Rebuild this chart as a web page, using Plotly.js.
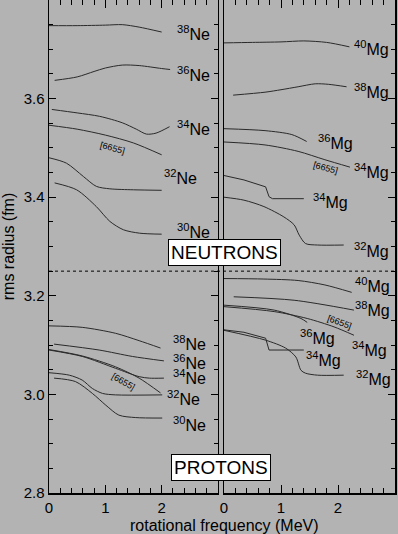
<!DOCTYPE html>
<html>
<head>
<meta charset="utf-8">
<script src="https://cdn.plot.ly/plotly-3.0.1.min.js"></script>
<style>
html,body{margin:0;padding:0;background:#b3b3b3;}
#chart{width:398px;height:534px;}
</style>
</head>
<body>
<div id="chart"></div>
<script>
// ---------- DATA (rms radius in fm vs rotational frequency in MeV) ----------
// Neutrons, Ne isotopes (left panel)
const ne38_n_x = [0, 0.5, 1.0, 1.3, 1.6, 2.0];
const ne38_n_y = [3.748, 3.748, 3.749, 3.750, 3.745, 3.735];
const ne36_n_x = [0.1, 0.5, 0.8, 1.0, 1.3, 1.6, 2.0, 2.15];
const ne36_n_y = [3.637, 3.644, 3.655, 3.662, 3.668, 3.667, 3.661, 3.659];
const ne34_n_x = [0.05, 0.5, 0.9, 1.3, 1.55, 1.73, 1.9, 2.14];
const ne34_n_y = [3.578, 3.571, 3.564, 3.551, 3.538, 3.528, 3.530, 3.543];
const ne34b_n_x = [0, 0.5, 1.0, 1.5, 2.0];
const ne34b_n_y = [3.546, 3.538, 3.526, 3.510, 3.486];
const ne32_n_x = [0, 0.31, 0.61, 0.84, 1.08, 1.5, 2.0];
const ne32_n_y = [3.480, 3.469, 3.442, 3.422, 3.417, 3.415, 3.414];
const ne30_n_x = [0.1, 0.49, 0.84, 1.08, 1.32, 1.61, 2.0];
const ne30_n_y = [3.429, 3.415, 3.381, 3.351, 3.334, 3.327, 3.325];

// Neutrons, Mg isotopes (right panel)
const mg40_n_x = [0, 0.5, 1.0, 1.4, 1.8, 2.2];
const mg40_n_y = [3.713, 3.714, 3.715, 3.717, 3.714, 3.705];
const mg38_n_x = [0.16, 0.72, 1.0, 1.3, 1.6, 1.83, 2.15];
const mg38_n_y = [3.607, 3.613, 3.618, 3.624, 3.630, 3.629, 3.624];
const mg36_n_x = [0, 0.72, 1.19, 1.45];
const mg36_n_y = [3.539, 3.535, 3.527, 3.513];
const mg34b_n_x = [0, 0.72, 1.30, 1.77, 2.21];
const mg34b_n_y = [3.512, 3.506, 3.493, 3.476, 3.461];
const mg34_n_x = [0, 0.35, 0.73, 0.79, 0.85, 1.40];
const mg34_n_y = [3.444, 3.435, 3.421, 3.401, 3.397, 3.397];
const mg32_n_x = [0, 0.35, 0.70, 1.05, 1.23, 1.32, 1.43, 1.64, 2.10];
const mg32_n_y = [3.400, 3.394, 3.381, 3.360, 3.344, 3.323, 3.306, 3.303, 3.303];

// Protons, Ne isotopes (left panel)
const ne38_p_x = [0, 0.59, 1.18, 1.60, 1.98];
const ne38_p_y = [3.139, 3.136, 3.124, 3.109, 3.094];
const ne36_p_x = [0.09, 0.89, 1.48, 2.04];
const ne36_p_y = [3.102, 3.090, 3.077, 3.068];
const ne34_p_x = [0, 0.59, 1.18, 1.60, 1.78, 2.04];
const ne34_p_y = [3.090, 3.077, 3.053, 3.036, 3.033, 3.033];
const ne34b_p_x = [0, 0.59, 1.18, 1.60, 1.98];
const ne34b_p_y = [3.091, 3.078, 3.056, 3.033, 3.003];
const ne32_p_x = [0, 0.36, 0.59, 0.77, 0.95, 1.18, 2.01];
const ne32_p_y = [3.044, 3.039, 3.029, 3.012, 3.002, 2.999, 2.999];
const ne30_p_x = [0.09, 0.47, 0.77, 1.01, 1.24, 1.54, 2.01];
const ne30_p_y = [3.033, 3.026, 3.002, 2.978, 2.958, 2.953, 2.952];

// Protons, Mg isotopes (right panel)
const mg40_p_x = [0, 0.7, 1.30, 1.77, 2.24];
const mg40_p_y = [3.235, 3.234, 3.231, 3.222, 3.207];
const mg38_p_x = [0.17, 1.23, 2.28];
const mg38_p_y = [3.198, 3.191, 3.171];
const mg36_p_x = [0, 0.88, 1.35, 1.46];
const mg36_p_y = [3.181, 3.171, 3.154, 3.146];
const mg34b_p_x = [0, 0.88, 1.46, 1.93, 2.28];
const mg34b_p_y = [3.178, 3.168, 3.154, 3.137, 3.120];
const mg34_p_x = [0, 0.35, 0.73, 0.79, 1.40];
const mg34_p_y = [3.131, 3.126, 3.114, 3.090, 3.090];
const mg32_p_x = [0, 0.73, 1.08, 1.26, 1.35, 1.43, 1.64, 2.10];
const mg32_p_y = [3.130, 3.110, 3.094, 3.076, 3.049, 3.043, 3.039, 3.039];

// tick labels
const xTickVals = [0, 1, 2, 3];
const xTickTextLeft = ['0', '1', '2', ''];
const xTickTextRight = ['0', '1', '2', '3'];
const yTickVals = [2.8, 3.0, 3.2, 3.4, 3.6];

// ---------- PLOT ----------
const FONT = 'Liberation Sans, Arial, Helvetica, sans-serif';
const LC = '#2a2a2a';
function tr(x, y, right, smooth) {
  return {
    x: x, y: y, type: 'scatter', mode: 'lines',
    xaxis: right ? 'x2' : 'x', yaxis: right ? 'y2' : 'y',
    line: {color: LC, width: 1, shape: smooth ? 'spline' : 'linear', smoothing: 0.8},
    hoverinfo: 'skip', showlegend: false
  };
}
const data = [
  tr(ne38_n_x, ne38_n_y, false, true),
  tr(ne36_n_x, ne36_n_y, false, true),
  tr(ne34_n_x, ne34_n_y, false, true),
  tr(ne34b_n_x, ne34b_n_y, false, true),
  tr(ne32_n_x, ne32_n_y, false, true),
  tr(ne30_n_x, ne30_n_y, false, true),
  tr(mg40_n_x, mg40_n_y, true, true),
  tr(mg38_n_x, mg38_n_y, true, true),
  tr(mg36_n_x, mg36_n_y, true, true),
  tr(mg34b_n_x, mg34b_n_y, true, true),
  tr(mg34_n_x, mg34_n_y, true, false),
  tr(mg32_n_x, mg32_n_y, true, true),
  tr(ne38_p_x, ne38_p_y, false, true),
  tr(ne36_p_x, ne36_p_y, false, true),
  tr(ne34_p_x, ne34_p_y, false, true),
  tr(ne34b_p_x, ne34b_p_y, false, true),
  tr(ne32_p_x, ne32_p_y, false, true),
  tr(ne30_p_x, ne30_p_y, false, true),
  tr(mg40_p_x, mg40_p_y, true, true),
  tr(mg38_p_x, mg38_p_y, true, true),
  tr(mg36_p_x, mg36_p_y, true, true),
  tr(mg34b_p_x, mg34b_p_y, true, true),
  tr(mg34_p_x, mg34_p_y, true, false),
  tr(mg32_p_x, mg32_p_y, true, true)
];

function lab(text, x, y, right, size, angle) {
  return {
    text: text, x: x, y: y, xref: right ? 'x2' : 'x', yref: 'y',
    showarrow: false, xanchor: 'center', yanchor: 'middle',
    textangle: angle || 0,
    font: {family: FONT, size: size || 16, color: '#000'}
  };
}
const annotations = [
  lab('<sup>38</sup>Ne', 2.565, 3.733, false),
  lab('<sup>36</sup>Ne', 2.565, 3.650, false),
  lab('<sup>34</sup>Ne', 2.565, 3.540, false),
  lab('<sup>32</sup>Ne', 2.326, 3.441, false),
  lab('<sup>30</sup>Ne', 2.565, 3.331, false),
  lab('[6655]', 1.127, 3.500, false, 9, 15),
  lab('<sup>40</sup>Mg', 2.579, 3.703, true),
  lab('<sup>38</sup>Mg', 2.579, 3.615, true),
  lab('<sup>36</sup>Mg', 1.956, 3.512, true),
  lab('<sup>34</sup>Mg', 2.579, 3.453, true),
  lab('[6655]', 1.789, 3.459, true, 9, 15),
  lab('<sup>34</sup>Mg', 1.86, 3.392, true),
  lab('<sup>32</sup>Mg', 2.579, 3.293, true),
  lab('<sup>38</sup>Ne', 2.503, 3.104, false),
  lab('<sup>36</sup>Ne', 2.503, 3.066, false),
  lab('<sup>34</sup>Ne', 2.503, 3.035, false),
  lab('<sup>32</sup>Ne', 2.379, 2.993, false),
  lab('<sup>30</sup>Ne', 2.503, 2.940, false),
  lab('[6655]', 1.331, 3.026, false, 9, 30),
  lab('<sup>40</sup>Mg', 2.614, 3.222, true),
  lab('<sup>38</sup>Mg', 2.614, 3.173, true),
  lab('[6655]', 2.018, 3.147, true, 9, 20),
  lab('<sup>36</sup>Mg', 1.640, 3.116, true),
  lab('<sup>34</sup>Mg', 2.561, 3.092, true),
  lab('<sup>34</sup>Mg', 1.749, 3.072, true),
  lab('<sup>32</sup>Mg', 2.626, 3.033, true),
  {
    text: 'NEUTRONS', xref: 'paper', yref: 'y', x: 0.506, y: 3.288,
    showarrow: false, xanchor: 'center', yanchor: 'middle',
    bgcolor: '#ffffff', bordercolor: '#000', borderwidth: 1, borderpad: 2,
    font: {family: FONT, size: 19, color: '#000'}
  },
  {
    text: 'PROTONS', xref: 'paper', yref: 'y', x: 0.497, y: 2.851,
    showarrow: false, xanchor: 'center', yanchor: 'middle',
    bgcolor: '#ffffff', bordercolor: '#000', borderwidth: 1, borderpad: 2,
    font: {family: FONT, size: 19, color: '#000'}
  },
  {
    text: 'rotational frequency (MeV)', xref: 'paper', yref: 'paper',
    x: 0.506, y: -0.065, showarrow: false, xanchor: 'center', yanchor: 'middle',
    font: {family: FONT, size: 16, color: '#000'}
  }
];

const xCommon = {
  range: [0, 3], tickvals: xTickVals, ticks: 'inside', ticklen: 8, tickwidth: 1,
  tickcolor: '#000', showline: true, linecolor: '#000', linewidth: 1.5,
  mirror: 'ticks', showgrid: false, zeroline: false,
  minor: {dtick: 0.2, tick0: 0, ticks: 'inside', ticklen: 5, tickcolor: '#000', showgrid: false},
  tickfont: {family: FONT, size: 15, color: '#000'}
};
const layout = {
  width: 398, height: 534,
  margin: {l: 49, r: 3, t: 0, b: 41, pad: 0},
  paper_bgcolor: '#b3b3b3', plot_bgcolor: '#b3b3b3',
  font: {family: FONT, color: '#000'},
  showlegend: false,
  xaxis: Object.assign({}, xCommon, {domain: [0, 0.4884], anchor: 'y', ticktext: xTickTextLeft}),
  xaxis2: Object.assign({}, xCommon, {domain: [0.5058, 1], anchor: 'y2', ticktext: xTickTextRight}),
  yaxis: {
    range: [2.8, 3.8], tickvals: yTickVals, tickformat: '.1f', ticks: 'inside', ticklen: 7,
    tickcolor: '#000', showline: true, linecolor: '#000', linewidth: 1.5, mirror: 'ticks',
    showgrid: false, zeroline: false, anchor: 'x',
    minor: {dtick: 0.05, tick0: 2.8, ticks: 'inside', ticklen: 4, tickcolor: '#000', showgrid: false},
    tickfont: {family: FONT, size: 15, color: '#000'},
    title: {text: 'rms radius (fm)', font: {family: FONT, size: 16, color: '#000'}, standoff: 6}
  },
  yaxis2: {
    range: [2.8, 3.8], tickvals: yTickVals, ticks: 'inside', ticklen: 7, side: 'right',
    tickcolor: '#000', showline: true, linecolor: '#000', linewidth: 1.5, mirror: true,
    showgrid: false, zeroline: false, anchor: 'x2', showticklabels: false,
    minor: {dtick: 0.05, tick0: 2.8, ticks: 'inside', ticklen: 4, tickcolor: '#000', showgrid: false}
  },
  shapes: [
    {type: 'line', xref: 'paper', yref: 'y', x0: 0, x1: 1, y0: 3.25, y1: 3.25,
     line: {color: '#000', width: 1, dash: 'dot'}}
  ],
  annotations: annotations
};
Plotly.newPlot('chart', data, layout, {staticPlot: true, displayModeBar: false});
</script>
</body>
</html>
